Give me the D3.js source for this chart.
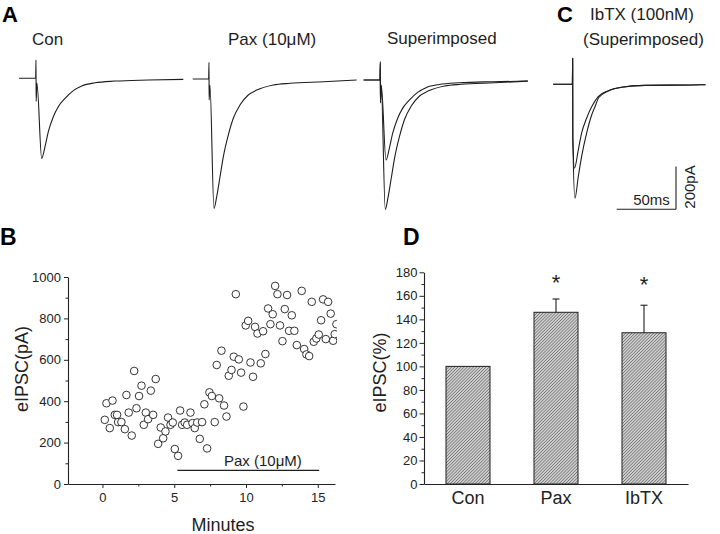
<!DOCTYPE html>
<html>
<head>
<meta charset="utf-8">
<script src="https://cdn.jsdelivr.net/npm/d3@7"></script>
<style>
  html, body { margin: 0; padding: 0; background: #fff; }
  svg { display: block; font-family: "Liberation Sans", Arial, sans-serif; }
  .axis path, .axis line { stroke: #222; }
  .axis text { fill: #222; }
</style>
</head>
<body>
<div id="chart"></div>
<script>
// ── Panel A / C traces: [time ms after stimulus, current pA] ──
const conTrace = [[-14.3,0],[-0.3,0],[0,86],[0.1,-108],[0.8,-24],[4.8,-375],[7.6,-320],[10.4,-250],[14.6,-180],
  [18.8,-133],[24.5,-94],[31.5,-58],[38.5,-36],[49.7,-21],[66.6,-13],[94.7,-8],[124.2,-5]];
const paxTrace = [[-13.7,0],[-0.3,0],[0,78],[0.1,-98],[0.8,-30],[4.2,-606],[6.5,-551],[9.3,-458],[12.1,-364],
  [16.3,-262],[20.5,-184],[26.1,-122],[33.1,-75],[40.2,-52],[54.2,-28],[68.3,-20],[96.4,-13],[124.5,-5]];
const ibtxConTrace = [[-16.5,0],[-0.3,0],[0,122],[0.1,-250],[1.5,-393],[4.7,-308],[7.5,-229],[11.7,-159],
  [16,-105],[21.5,-58],[30,-30],[41.2,-14],[61,-5],[100,-3],[112,-2]];
const ibtxTrace = [[-16.5,0],[-0.3,0],[0,122],[0.1,-250],[1.9,-534],[4.7,-433],[7.5,-339],[11.7,-230],
  [16,-144],[18.8,-105],[22,-62],[30,-31],[41.2,-14],[61,-5],[100,-3],[112,-2]];

// ── Panel B: eIPSC amplitude over time ──
const minutes = [0.16,0.28,0.51,0.70,0.86,1.02,1.09,1.32,1.56,1.67,
  1.83,2.04,2.21,2.37,2.55,2.72,2.88,3.02,3.18,3.37,
  3.53,3.71,3.88,4.06,4.23,4.39,4.57,4.74,4.90,5.04,
  5.27,5.41,5.55,5.73,5.90,6.13,6.27,6.43,6.60,6.78,
  6.94,7.10,7.29,7.45,7.62,7.82,7.96,8.13,8.29,8.47,
  8.64,8.80,8.99,9.15,9.29,9.50,9.66,9.82,9.98,10.15,
  10.31,10.49,10.63,10.80,11.03,11.19,11.35,11.54,11.70,11.86,
  12.03,12.19,12.37,12.54,12.70,12.86,13.00,13.19,13.37,13.54,
  13.88,14.05,14.21,14.40,14.58,14.72,14.90,15.07,15.23,15.37,
  15.56,15.72,15.90,16.07,16.18,16.30];
const eipsc = [310,390,270,403,334,334,299,299,265,430,
  345,234,546,366,425,475,286,345,313,451,
  334,507,194,273,221,254,321,286,297,169,
  136,355,286,297,286,345,294,270,297,218,
  299,385,172,443,425,299,575,414,644,379,
  326,523,551,615,917,602,538,374,766,788,
  587,518,759,727,583,738,628,848,772,820,
  957,917,766,690,845,913,740,815,740,671,
  933,652,626,618,880,687,703,722,791,892,
  700,880,823,692,724,772];
const paxPeriod = [5.22, 15.1];   // minutes, bar drawn at 66 pA
const paxBarLevel = 66;

// ── Panel D: normalised eIPSC ──
const groups = ['Con', 'Pax', 'IbTX'];
const meanPct = [100, 146, 128.6];
const errTop = [null, 157.3, 152];
const starAt = [null, 175, 173.5];

const W = 720, H = 534;
const svg = d3.select('#chart').append('svg').attr('width', W).attr('height', H);
const ink = '#1e1e1e';

// ══════════════════════════════════════════════════════════════════
// Traces (A and C)
// ══════════════════════════════════════════════════════════════════
const tScale = d3.scaleLinear().domain([0, 50]).range([0, 59.3]);     // 50 ms scale bar
const iScale = d3.scaleLinear().domain([0, 200]).range([0, 42.7]);    // 200 pA scale bar

function drawTrace(data, x0, y0) {
  const line = d3.line()
    .x(d => x0 + tScale(d[0]))
    .y(d => y0 - iScale(d[1]))
    .curve(d3.curveMonotoneX);
  svg.append('path').datum(data)
    .attr('d', line).attr('fill', 'none')
    .attr('stroke', ink).attr('stroke-width', 1.1).attr('stroke-linejoin', 'round');
}

drawTrace(conTrace, 36, 78.3);
drawTrace(paxTrace, 209, 79);
drawTrace(conTrace, 380.3, 80);
drawTrace(paxTrace, 380.3, 80);
drawTrace(ibtxConTrace, 572.7, 84.3);
drawTrace(ibtxTrace, 572.7, 84.3);

// scale bar
const sbX = 676, sbY = 209.3;
svg.append('line').attr('x1', sbX - tScale(50)).attr('x2', sbX).attr('y1', sbY).attr('y2', sbY)
  .attr('stroke', ink).attr('stroke-width', 1.1);
svg.append('line').attr('x1', sbX).attr('x2', sbX).attr('y1', sbY).attr('y2', sbY - iScale(200))
  .attr('stroke', ink).attr('stroke-width', 1.1);
svg.append('text').attr('x', 651.5).attr('y', 205).attr('text-anchor', 'middle')
  .attr('font-size', 15).attr('fill', ink).text('50ms');
svg.append('text').attr('transform', 'translate(695,187) rotate(-90)').attr('text-anchor', 'middle')
  .attr('font-size', 15).attr('fill', ink).text('200pA');

function label(x, y, txt, size, bold) {
  svg.append('text').attr('x', x).attr('y', y).attr('font-size', size)
    .attr('font-weight', bold ? 'bold' : 'normal').attr('fill', bold ? '#000' : ink).text(txt);
}
label(2, 22, 'A', 22, true);
label(557, 22, 'C', 22, true);
label(0, 245, 'B', 23, true);
label(403, 245, 'D', 23, true);
label(32, 45, 'Con', 17);
label(228, 45, 'Pax (10\u03BCM)', 17);
label(387, 44, 'Superimposed', 17);
label(590, 20, 'IbTX (100nM)', 17);
label(583, 45, '(Superimposed)', 17);

// ══════════════════════════════════════════════════════════════════
// Panel B scatter
// ══════════════════════════════════════════════════════════════════
const bx = d3.scaleLinear().domain([-2.4, 16.2]).range([68, 335]);
const by = d3.scaleLinear().domain([0, 1000]).range([484, 277]);

const defs = svg.append('defs');
defs.append('clipPath').attr('id', 'clipB')
  .append('rect').attr('x', 68).attr('y', 265).attr('width', 269).attr('height', 220);

function styleAxis(g, size) {
  g.attr('class', 'axis');
  g.selectAll('text').attr('font-size', size).attr('font-family', '"Liberation Sans", Arial, sans-serif');
  g.select('.domain').attr('stroke-width', 1.1);
}

// minor ticks first, then major axes
svg.append('g').attr('transform', 'translate(0,484)')
  .call(d3.axisBottom(bx).tickValues([2.5, 7.5, 12.5]).tickSize(2.5).tickFormat('').tickSizeOuter(0))
  .call(g => { g.attr('class', 'axis'); g.select('.domain').remove(); });
svg.append('g').attr('transform', 'translate(68,0)')
  .call(d3.axisLeft(by).tickValues([100, 300, 500, 700, 900]).tickSize(2.5).tickFormat('').tickSizeOuter(0))
  .call(g => { g.attr('class', 'axis'); g.select('.domain').remove(); });

svg.append('g').attr('transform', 'translate(0,484)')
  .call(d3.axisBottom(bx).tickValues([0, 5, 10, 15]).tickSize(4).tickPadding(5).tickSizeOuter(0).tickFormat(d3.format('d')))
  .call(g => styleAxis(g, 13));
svg.append('g').attr('transform', 'translate(68,0)')
  .call(d3.axisLeft(by).tickValues(d3.range(0, 1001, 200)).tickSize(4).tickPadding(3).tickSizeOuter(0).tickFormat(d3.format('d')))
  .call(g => styleAxis(g, 13));

svg.append('g').attr('clip-path', 'url(#clipB)')
  .selectAll('circle').data(minutes).join('circle')
  .attr('cx', d => bx(d))
  .attr('cy', (d, i) => by(eipsc[i]))
  .attr('r', 3.8)
  .attr('fill', '#fff').attr('stroke', ink).attr('stroke-width', 0.9);

svg.append('line')
  .attr('x1', bx(paxPeriod[0])).attr('x2', bx(paxPeriod[1]))
  .attr('y1', by(paxBarLevel)).attr('y2', by(paxBarLevel))
  .attr('stroke', ink).attr('stroke-width', 1.2);
svg.append('text').attr('x', bx(11.18)).attr('y', 466).attr('text-anchor', 'middle')
  .attr('font-size', 15).attr('fill', ink).text('Pax (10\u03BCM)');

svg.append('text').attr('transform', 'translate(28,369) rotate(-90)').attr('text-anchor', 'middle')
  .attr('font-size', 18).attr('fill', ink).text('eIPSC(pA)');
svg.append('text').attr('x', 223).attr('y', 531).attr('text-anchor', 'middle')
  .attr('font-size', 18).attr('fill', ink).text('Minutes');

// ══════════════════════════════════════════════════════════════════
// Panel D bars
// ══════════════════════════════════════════════════════════════════
const dx = d3.scaleBand().domain(groups).range([424, 688]).paddingInner(0.5).paddingOuter(0.25);
const dy = d3.scaleLinear().domain([0, 180]).range([484, 272.3]);

const pat = defs.append('pattern').attr('id', 'hatch')
  .attr('patternUnits', 'userSpaceOnUse').attr('width', 2.2).attr('height', 2.2)
  .attr('patternTransform', 'rotate(45)');
pat.append('rect').attr('width', 2.2).attr('height', 2.2).attr('fill', '#cfcfcf');
pat.append('line').attr('x1', 0).attr('x2', 0).attr('y1', 0).attr('y2', 2.2)
  .attr('stroke', '#4a4a4a').attr('stroke-width', 1);

svg.append('g').attr('transform', 'translate(424,0)')
  .call(d3.axisLeft(dy).tickValues(d3.range(10, 180, 20)).tickSize(2.5).tickFormat('').tickSizeOuter(0))
  .call(g => { g.attr('class', 'axis'); g.select('.domain').remove(); });
svg.append('g').attr('transform', 'translate(424,0)')
  .call(d3.axisLeft(dy).tickValues(d3.range(0, 181, 20)).tickSize(4.5).tickPadding(2).tickSizeOuter(0))
  .call(g => styleAxis(g, 13));

svg.append('g').selectAll('rect').data(groups).join('rect')
  .attr('x', d => dx(d))
  .attr('y', (d, i) => dy(meanPct[i]))
  .attr('width', dx.bandwidth())
  .attr('height', (d, i) => dy(0) - dy(meanPct[i]))
  .attr('fill', 'url(#hatch)').attr('stroke', ink).attr('stroke-width', 1);

groups.forEach((gname, i) => {
  if (errTop[i] == null) return;
  const cx = dx(gname) + dx.bandwidth() / 2;
  svg.append('line').attr('x1', cx).attr('x2', cx)
    .attr('y1', dy(meanPct[i])).attr('y2', dy(errTop[i])).attr('stroke', ink).attr('stroke-width', 1.1);
  svg.append('line').attr('x1', cx - 3.5).attr('x2', cx + 3.5)
    .attr('y1', dy(errTop[i])).attr('y2', dy(errTop[i])).attr('stroke', ink).attr('stroke-width', 1.1);
  svg.append('text').attr('x', cx).attr('y', dy(starAt[i]) + 12).attr('text-anchor', 'middle')
    .attr('font-size', 22).attr('fill', ink).text('*');
});

svg.append('g').attr('transform', 'translate(0,484)')
  .call(d3.axisBottom(dx).tickSize(0).tickPadding(7).tickSizeOuter(0))
  .call(g => styleAxis(g, 18));

svg.append('text').attr('transform', 'translate(386,372.5) rotate(-90)').attr('text-anchor', 'middle')
  .attr('font-size', 18).attr('fill', ink).text('eIPSC(%)');
</script>
</body>
</html>
